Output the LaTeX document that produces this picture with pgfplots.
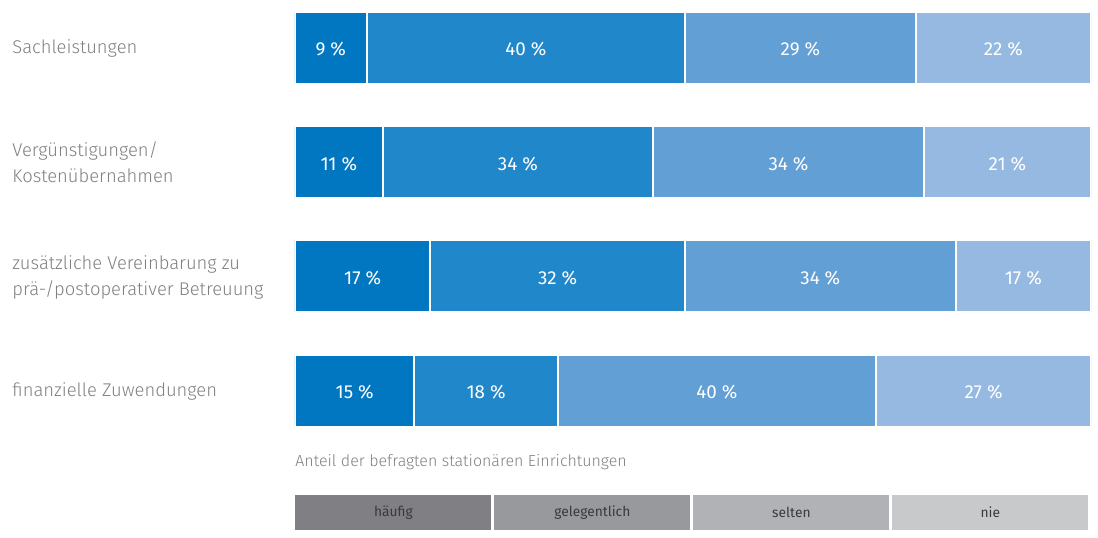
\documentclass[border=0pt]{standalone}
\usepackage{fontspec}
\IfFontExistsTF{Fira Sans Light}{\setmainfont{Fira Sans Light}}{\setmainfont{Fira Sans}}
\newfontfamily\regfont{Fira Sans}
\usepackage{pgfplots}
\usepackage{pgfplotstable}
\pgfplotsset{compat=1.18}

\definecolor{bA}{HTML}{0077C0}
\definecolor{bB}{HTML}{2088CA}
\definecolor{bC}{HTML}{629FD5}
\definecolor{bD}{HTML}{95B9E1}
\definecolor{lA}{HTML}{808084}
\definecolor{lB}{HTML}{98999D}
\definecolor{lC}{HTML}{B1B2B5}
\definecolor{lD}{HTML}{C8C9CB}
\definecolor{txt}{HTML}{7F8083}
\definecolor{dark}{HTML}{3A3A3C}

% Anteile in %: haeufig, gelegentlich, selten, nie
\pgfplotstableread{
y a  b  c  d
0 9  40 29 22
1 11 34 34 21
2 17 32 34 17
3 15 18 40 27
}\anteile

% one segment of the stacked bar (stacked nodes near coords sit centred)
\pgfplotsset{
  seg/.style={
    fill=#1, draw=white, line width=1pt,
    nodes near coords={\regfont\pgfplotspointmeta~\%},
    every node near coord/.style={anchor=center, text=white, yshift=-1pt,
      font=\fontsize{9.4}{11}\selectfont},
  },
}

\begin{document}
\begin{tikzpicture}
\path[use as bounding box] (0,0) rectangle (549pt,-268.5pt);
\begin{axis}[
  at={(147.5pt,-6pt)}, anchor=north west,
  scale only axis, width=398pt, height=207pt,
  xbar stacked, bar width=36pt,
  xmin=0, xmax=100,
  ymin=-0.3105, ymax=3.3105, y dir=reverse,
  axis line style={draw=none}, major tick length=0pt,
  xtick=\empty,
  ytick={0,1,2,3},
  yticklabels={Sachleistungen,
    {Vergünstigungen/\\Kostenübernahmen},
    {zusätzliche Vereinbarung zu\\prä-/postoperativer Betreuung},
    finanzielle Zuwendungen},
  yticklabel style={anchor=west, align=left, inner sep=0pt,
    xshift=-141.5pt, yshift=-0.4pt, text=txt, font=\fontsize{9.2}{13}\selectfont},
  point meta=explicit symbolic,
]
\addplot[seg=bA] table[x=a, y=y, meta=a] {\anteile};
\addplot[seg=bB] table[x=b, y=y, meta=b] {\anteile};
\addplot[seg=bC] table[x=c, y=y, meta=c] {\anteile};
\addplot[seg=bD] table[x=d, y=y, meta=d] {\anteile};
\end{axis}

\node[anchor=west, inner sep=0pt, text=txt, font=\fontsize{8}{10}\selectfont]
  at (147.5pt,-231pt) {Anteil der befragten stationären Einrichtungen};

\foreach \c/\t [count=\i from 0] in {lA/häufig, lB/gelegentlich, lC/selten, lD/nie}
  \node[fill=\c, minimum width=98pt, minimum height=17.5pt, inner sep=0pt,
        anchor=west, text=dark, font=\regfont\fontsize{6.9}{9}\selectfont]
    at ({147.5pt+\i*99.5pt},-256.25pt) {\t};
\end{tikzpicture}
\end{document}
